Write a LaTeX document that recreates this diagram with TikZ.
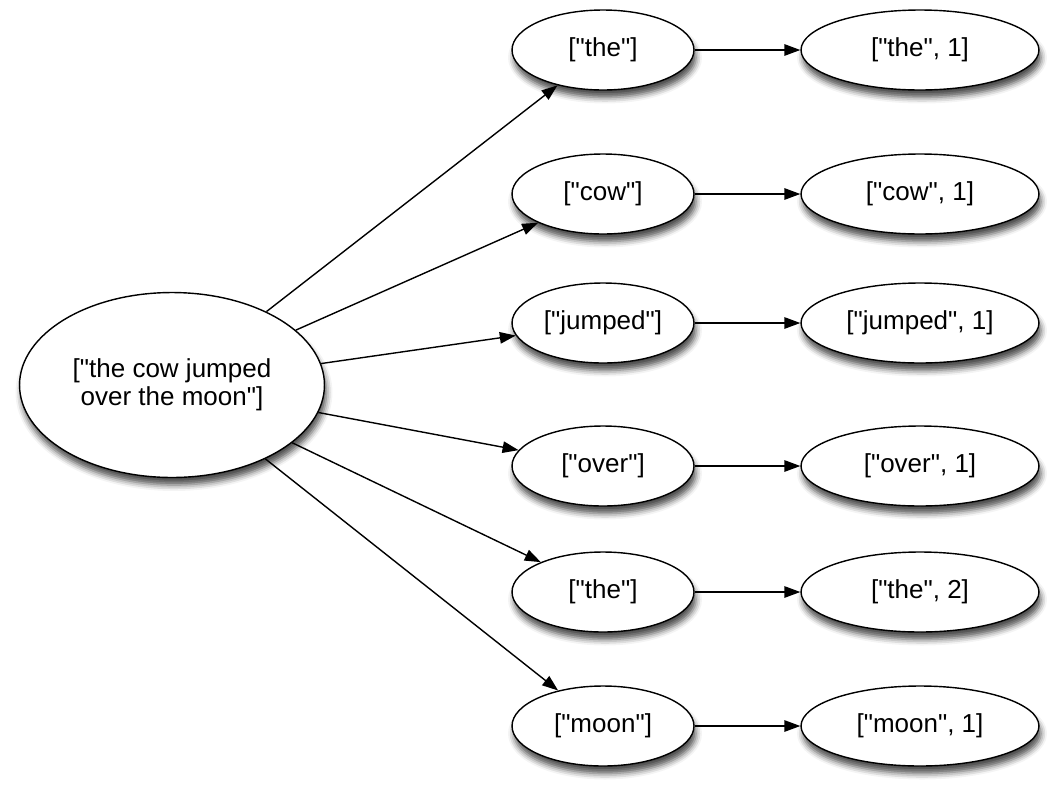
\documentclass[tikz,border=0pt]{standalone}
\usepackage{fontspec}
\setmainfont{Liberation Sans}[Ligatures=TeXOff]
\usetikzlibrary{shapes.geometric,arrows.meta,shadows.blur}

\tikzstyle{bubble}=[draw, ellipse, fill=white, line width=0.8pt, inner sep=0pt,
  minimum height=1.6cm,
  blur shadow={shadow xshift=0.04cm, shadow yshift=-0.15cm,
    shadow blur radius=0.12cm, shadow opacity=70}]
\tikzstyle{word}=[bubble, minimum width=3.64cm]
\tikzstyle{pair}=[bubble, minimum width=4.76cm]
\tikzstyle{flow}=[-{Triangle[length=3.2mm,width=2.3mm]}, line width=0.8pt]

\begin{document}
\begin{tikzpicture}[x=0.02cm, y=-0.02cm, font=\fontsize{14.8pt}{16.1pt}\selectfont]
\useasboundingbox (0,0) rectangle (1052,792);
\draw (172,385) node[bubble, minimum width=6.1cm, minimum height=3.7cm,
  align=center](input){["the cow jumped\\over the moon"]};
%
\draw (603,50) node[word](word1){["the"]};
\draw (603,194) node[word](word2){["cow"]};
\draw (603,323) node[word](word3){["jumped"]};
\draw (603,466) node[word](word4){["over"]};
\draw (603,592) node[word](word5){["the"]};
\draw (603,726) node[word](word6){["moon"]};
%
\draw (920,50) node[pair](pair1){["the", 1]};
\draw (920,194) node[pair](pair2){["cow", 1]};
\draw (920,323) node[pair](pair3){["jumped", 1]};
\draw (920,466) node[pair](pair4){["over", 1]};
\draw (920,592) node[pair](pair5){["the", 2]};
\draw (920,726) node[pair](pair6){["moon", 1]};
%
\draw[flow] (input) -- (word1); \draw[flow] (input) -- (word2);
\draw[flow] (input) -- (word3); \draw[flow] (input) -- (word4);
\draw[flow] (input) -- (word5); \draw[flow] (input) -- (word6);
%
\draw[flow] (word1) -- (pair1); \draw[flow] (word2) -- (pair2);
\draw[flow] (word3) -- (pair3); \draw[flow] (word4) -- (pair4);
\draw[flow] (word5) -- (pair5); \draw[flow] (word6) -- (pair6);
\end{tikzpicture}
\end{document}
